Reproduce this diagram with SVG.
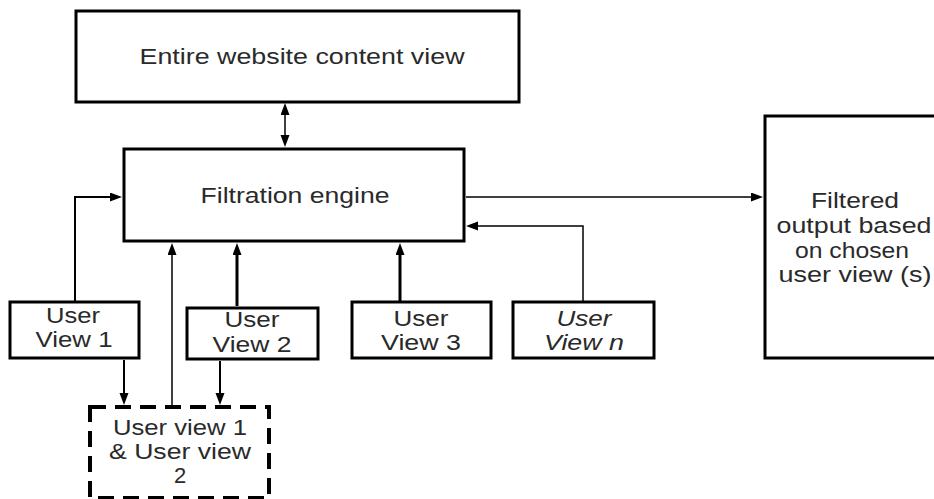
<svg xmlns="http://www.w3.org/2000/svg" width="934" height="499" viewBox="0 0 934 499">
<style>
.box{fill:#fff;stroke:#000;stroke-width:3}
.dash{fill:#fff;stroke:#000;stroke-width:4;stroke-dasharray:16 9}
.t{font-family:"Liberation Sans",Arial,sans-serif;font-size:22px;fill:#2a2a2a;text-anchor:middle}
.it{font-style:italic}
.c{fill:none;stroke:#000}
.thin{stroke-width:1.5}
.mid{stroke-width:2}
.thick{stroke-width:3}
</style>
<defs>
<marker id="ah" markerUnits="userSpaceOnUse" markerWidth="13" markerHeight="10" refX="0" refY="4.5" orient="auto-start-reverse">
<path d="M0,0 L12,4.5 L0,9 z" fill="#000"/>
</marker>
</defs>
<rect width="934" height="499" fill="#fff"/>

<g id="connectors">
<path class="c thin" d="M285,115 V135" marker-start="url(#ah)" marker-end="url(#ah)"/>
<path class="c mid" d="M75,302 V197 H110" marker-end="url(#ah)"/>
<path class="c thin" d="M172,405 V255" marker-end="url(#ah)"/>
<path class="c thick" d="M237,306 V255" marker-end="url(#ah)"/>
<path class="c thick" d="M400,301 V255" marker-end="url(#ah)"/>
<path class="c thin" d="M583,301 V226 H478" marker-end="url(#ah)"/>
<path class="c thin" d="M466,197 H751" marker-end="url(#ah)"/>
<path class="c mid" d="M124,360 V393" marker-end="url(#ah)"/>
<path class="c mid" d="M220,361 V393" marker-end="url(#ah)"/>
</g>

<g id="entire-website">
<rect class="box" x="76" y="11" width="443" height="91"/>
<text class="t" x="302" y="64" textLength="325" lengthAdjust="spacingAndGlyphs">Entire website content view</text>
</g>

<g id="filtration-engine">
<rect class="box" x="124" y="149" width="340" height="92"/>
<text class="t" x="295" y="203" textLength="189" lengthAdjust="spacingAndGlyphs">Filtration engine</text>
</g>

<g id="filtered-output">
<rect class="box" x="765" y="116" width="185" height="242"/>
<text class="t" x="855" y="208" textLength="88" lengthAdjust="spacingAndGlyphs">Filtered</text>
<text class="t" x="854" y="233" textLength="155" lengthAdjust="spacingAndGlyphs">output based</text>
<text class="t" x="852" y="258" textLength="114" lengthAdjust="spacingAndGlyphs">on chosen</text>
<text class="t" x="855" y="282" textLength="153" lengthAdjust="spacingAndGlyphs">user view (s)</text>
</g>

<g id="user-view-1">
<rect class="box" x="10" y="302" width="129" height="56"/>
<text class="t" x="73" y="323" textLength="54" lengthAdjust="spacingAndGlyphs">User</text>
<text class="t" x="74" y="347" textLength="77" lengthAdjust="spacingAndGlyphs">View 1</text>
</g>

<g id="user-view-2">
<rect class="box" x="187" y="308" width="131" height="51"/>
<text class="t" x="252" y="327" textLength="55" lengthAdjust="spacingAndGlyphs">User</text>
<text class="t" x="252" y="352" textLength="79" lengthAdjust="spacingAndGlyphs">View 2</text>
</g>

<g id="user-view-3">
<rect class="box" x="352" y="302" width="139" height="56"/>
<text class="t" x="421" y="326" textLength="55" lengthAdjust="spacingAndGlyphs">User</text>
<text class="t" x="421" y="350" textLength="80" lengthAdjust="spacingAndGlyphs">View 3</text>
</g>

<g id="user-view-n">
<rect class="box" x="513" y="302" width="141" height="56"/>
<text class="t it" x="584" y="326" textLength="55" lengthAdjust="spacingAndGlyphs">User</text>
<text class="t it" x="584" y="350" textLength="80" lengthAdjust="spacingAndGlyphs">View n</text>
</g>

<g id="user-view-1-and-2">
<rect class="dash" x="90" y="407" width="179" height="91"/>
<text class="t" x="180" y="435" textLength="134" lengthAdjust="spacingAndGlyphs">User view 1</text>
<text class="t" x="180" y="459" textLength="142" lengthAdjust="spacingAndGlyphs">&amp; User view</text>
<text class="t" x="180" y="483">2</text>
</g>
</svg>
